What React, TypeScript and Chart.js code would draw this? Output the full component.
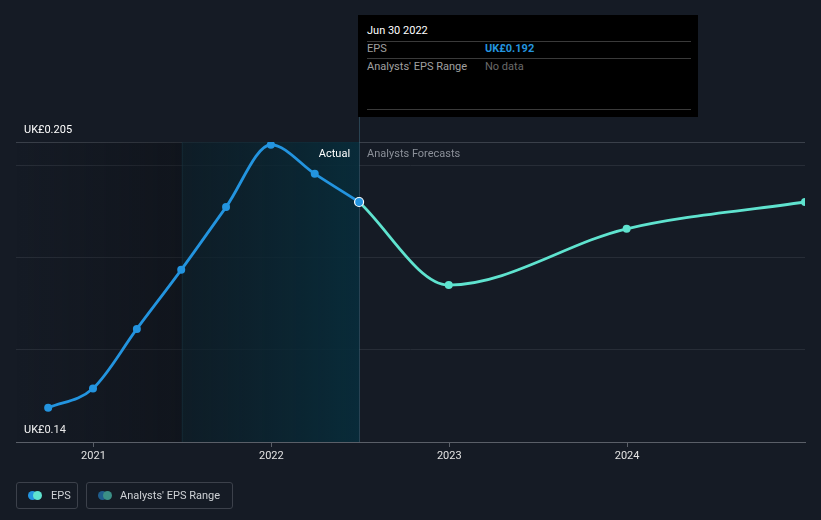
import React, { useEffect, useRef } from "react";
import { Chart, registerables } from "chart.js";

Chart.register(...registerables);

// ---- data ----
const actualDates = ["2020-09-30", "2020-12-31", "2021-03-31", "2021-06-30", "2021-09-30", "2021-12-31", "2022-03-31", "2022-06-30"];
const actualEps = [0.1474, 0.1516, 0.1645, 0.1773, 0.1909, 0.2044, 0.1981, 0.192];
const forecastDates = ["2022-06-30", "2022-12-31", "2023-12-31", "2024-12-31"];
const forecastEps = [0.192, 0.174, 0.1862, 0.192];
const yearTicks = [2021, 2022, 2023, 2024];
const yTicks = [0.14, 0.16, 0.18, 0.2, 0.205];
const yLabelTicks = [0.14, 0.205];
const xMinDate = "2020-07-26";
const xMaxDate = "2024-12-31";
const pastRegionStart = "2021-07-01";
const todayDate = "2022-06-30";

const BG = "#151b25";
const BLUE = "#2394df";
const TEAL = "#5fe3cf";
const FONT = "Roboto, 'Noto Sans', sans-serif";

const t = (d: string) => Date.parse(d + "T00:00:00Z");

const regionsPlugin = {
  id: "regions",
  beforeDatasetsDraw(chart: any) {
    const { ctx, chartArea, scales } = chart;
    const x = scales.x;
    const left = chartArea.left;
    const top = chartArea.top;
    const bottom = chartArea.bottom;
    const xPast = x.getPixelForValue(t(pastRegionStart));
    const xToday = x.getPixelForValue(t(todayDate));
    ctx.save();
    let g = ctx.createLinearGradient(left, 0, xPast, 0);
    g.addColorStop(0, "rgba(10,12,16,0.0)");
    g.addColorStop(1, "rgba(8,10,14,0.35)");
    ctx.fillStyle = g;
    ctx.fillRect(left, top, xPast - left, bottom - top);
    g = ctx.createLinearGradient(xPast, 0, xToday, 0);
    g.addColorStop(0, "rgba(12,30,40,0.7)");
    g.addColorStop(1, "rgba(8,44,58,0.95)");
    ctx.fillStyle = g;
    ctx.fillRect(xPast, top, xToday - xPast, bottom - top);
    ctx.lineWidth = 1;
    ctx.strokeStyle = "rgba(25,50,62,0.45)";
    ctx.beginPath();
    ctx.moveTo(Math.round(xPast) + 0.5, top);
    ctx.lineTo(Math.round(xPast) + 0.5, bottom);
    ctx.stroke();
    ctx.strokeStyle = "rgba(60,100,120,0.55)";
    ctx.beginPath();
    ctx.moveTo(Math.round(xToday) + 0.5, 117);
    ctx.lineTo(Math.round(xToday) + 0.5, bottom);
    ctx.stroke();
    ctx.font = "11px " + FONT;
    ctx.textBaseline = "middle";
    ctx.textAlign = "right";
    ctx.fillStyle = "#ffffff";
    ctx.fillText("Actual", xToday - 9, top + 12);
    ctx.textAlign = "left";
    ctx.fillStyle = "#8b9099";
    ctx.fillText("Analysts Forecasts", xToday + 8, top + 12);
    ctx.restore();
  },
};

export default function App() {
  const ref = useRef<HTMLCanvasElement | null>(null);
  useEffect(() => {
    if (!ref.current) return;
    const lastIdx = actualEps.length - 1;
    const chart = new Chart(ref.current, {
      type: "line",
      data: {
        datasets: [
          {
            label: "EPS",
            data: actualDates.map((d, i) => ({ x: t(d), y: actualEps[i] })),
            borderColor: BLUE,
            borderWidth: 2.8,
            cubicInterpolationMode: "monotone",
            pointRadius: (c: any) => (c.dataIndex === lastIdx ? 4.5 : 4),
            pointBackgroundColor: BLUE,
            pointBorderColor: (c: any) => (c.dataIndex === lastIdx ? "#ffffff" : BLUE),
            pointBorderWidth: (c: any) => (c.dataIndex === lastIdx ? 1.2 : 0),
          } as any,
          {
            label: "Forecast",
            data: forecastDates.map((d, i) => ({ x: t(d), y: forecastEps[i] })),
            borderColor: TEAL,
            borderWidth: 2.8,
            cubicInterpolationMode: "monotone",
            pointRadius: (c: any) => (c.dataIndex === 0 ? 0 : 4),
            pointBackgroundColor: TEAL,
            pointBorderWidth: 0,
            clip: 0,
          } as any,
        ],
      },
      options: {
        animation: false,
        responsive: false,
        maintainAspectRatio: false,
        events: [],
        layout: { padding: { left: 16, right: 16, top: 142, bottom: 0 } },
        plugins: { legend: { display: false }, tooltip: { enabled: false } },
        scales: {
          x: {
            type: "linear",
            min: t(xMinDate),
            max: t(xMaxDate),
            afterBuildTicks: (s: any) => {
              s.ticks = yearTicks.map((y) => ({ value: Date.UTC(y, 0, 1) }));
            },
            afterFit: (s: any) => {
              s.height = 78;
            },
            border: { display: true, color: "#5a5f68", width: 1 },
            grid: { display: true, drawOnChartArea: false, drawTicks: true, tickLength: 5, color: "#5a5f68" },
            ticks: {
              padding: 3,
              color: "#e2e2e2",
              font: { family: FONT, size: 11 },
              maxRotation: 0,
              callback: (v: any) => String(new Date(v).getUTCFullYear()),
            },
          },
          y: {
            type: "linear",
            min: 0.14,
            max: 0.205,
            afterBuildTicks: (s: any) => {
              s.ticks = yTicks.map((v) => ({ value: v }));
            },
            afterFit: (s: any) => {
              s.width = 0;
            },
            border: { display: false },
            grid: {
              drawTicks: false,
              color: (c: any) => (c.tick && c.tick.value === 0.205 ? "#3a404a" : "#272d37"),
              lineWidth: 1,
            },
            ticks: {
              mirror: true,
              padding: 8,
              labelOffset: -12,
              color: "#ffffff",
              font: { family: FONT, size: 11 },
              callback: (v: any) => (yLabelTicks.includes(Number(v)) ? "UK£" + Number(v) : ""),
            },
          },
        },
      } as any,
      plugins: [regionsPlugin],
    });
    return () => chart.destroy();
  }, []);

  const legendBox: React.CSSProperties = {
    position: "absolute",
    top: 482,
    height: 27,
    boxSizing: "border-box",
    border: "1px solid #3c414b",
    borderRadius: 3,
    display: "flex",
    alignItems: "center",
    fontFamily: FONT,
    fontSize: 11,
    color: "#cfd2d6",
  };
  const dot = (c: string, l: number): React.CSSProperties => ({
    position: "absolute",
    left: l,
    top: 8,
    width: 9,
    height: 9,
    borderRadius: "50%",
    background: c,
  });

  return (
    <div style={{ position: "fixed", left: 0, top: 0, width: 821, height: 520, background: BG, overflow: "hidden" }}>
      <canvas ref={ref} width={821} height={520} style={{ position: "absolute", left: 0, top: 0, width: 821, height: 520 }} />
      <div
        style={{
          position: "absolute",
          left: 358,
          top: 15,
          width: 340,
          height: 102,
          background: "#000",
          fontFamily: FONT,
          fontSize: 11,
        }}
      >
        <div style={{ position: "absolute", left: 9, top: 9, lineHeight: "14px", color: "#fff" }}>Jun 30 2022</div>
        <div style={{ position: "absolute", left: 9, top: 26, width: 324, height: 1, background: "#3a3a3a" }} />
        <div style={{ position: "absolute", left: 9, top: 27, lineHeight: "13px", color: "#a0a0a0" }}>EPS</div>
        <div style={{ position: "absolute", left: 127, top: 27, lineHeight: "13px", color: BLUE, fontWeight: 700 }}>UK£0.192</div>
        <div style={{ position: "absolute", left: 9, top: 43, width: 324, height: 1, background: "#3a3a3a" }} />
        <div style={{ position: "absolute", left: 9, top: 45, lineHeight: "13px", color: "#a0a0a0" }}>Analysts' EPS Range</div>
        <div style={{ position: "absolute", left: 127, top: 45, lineHeight: "13px", color: "#6a6a6a" }}>No data</div>
        <div style={{ position: "absolute", left: 9, top: 94, width: 324, height: 1, background: "#3a3a3a" }} />
      </div>
      <div style={{ ...legendBox, left: 16, width: 62 }}>
        <span style={dot(BLUE, 11)} />
        <span style={dot(TEAL, 16)} />
        <span style={{ position: "absolute", left: 34 }}>EPS</span>
      </div>
      <div style={{ ...legendBox, left: 86, width: 147 }}>
        <span style={dot("#1f5d8c", 11)} />
        <span style={dot("#3b8f86", 16)} />
        <span style={{ position: "absolute", left: 33 }}>Analysts' EPS Range</span>
      </div>
    </div>
  );
}
